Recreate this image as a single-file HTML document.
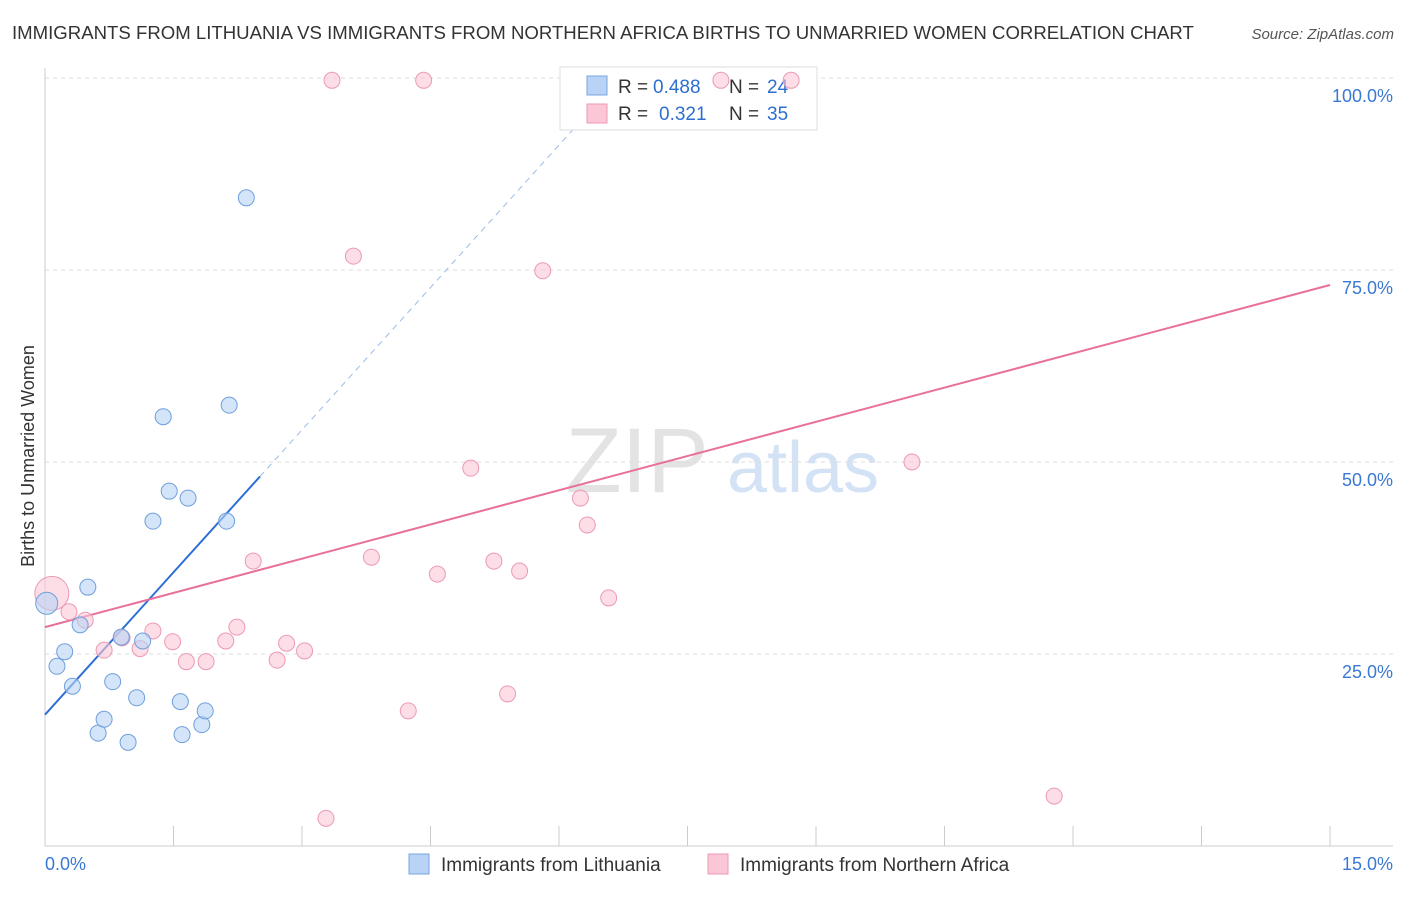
<!DOCTYPE html>
<html><head><meta charset="utf-8"><style>
body{margin:0;background:#fff;font-family:"Liberation Sans",sans-serif;}
svg text{font-family:"Liberation Sans",sans-serif;}
</style></head><body>
<svg id="chart" width="1406" height="892">
<text x="12" y="39" font-size="18.6" fill="#333">IMMIGRANTS FROM LITHUANIA VS IMMIGRANTS FROM NORTHERN AFRICA BIRTHS TO UNMARRIED WOMEN CORRELATION CHART</text>
<text x="1394" y="39" font-size="15" fill="#555" text-anchor="end" font-style="italic">Source: ZipAtlas.com</text>
<text x="34" y="456" font-size="18" fill="#333" text-anchor="middle" transform="rotate(-90 34 456)">Births to Unmarried Women</text>
<g><text x="637" y="492" font-size="92" fill="#ddd" font-family="Liberation Serif" text-anchor="middle" opacity="0.8">ZIP</text><text x="803" y="492" font-size="72" fill="#c9dcf2" text-anchor="middle" opacity="0.8">atlas</text></g>
<g id="grid"></g><g id="axes"></g><g id="lines"></g>
<g>
<rect x="560" y="67" width="257" height="63" fill="#fff" stroke="#ddd"/>
<rect x="587" y="76" width="20" height="19" fill="#b8d3f5" stroke="#7aa7e0"/>
<rect x="587" y="104" width="20" height="19" fill="#fbc6d6" stroke="#ee9ab4"/>
<text x="618" y="93" font-size="19" fill="#333">R =</text>
<text x="653" y="93" font-size="19" fill="#2d6fcf">0.488</text>
<text x="729" y="93" font-size="19" fill="#333">N =</text>
<text x="767" y="93" font-size="19" fill="#2d6fcf">24</text>
<text x="618" y="120" font-size="19" fill="#333">R =</text>
<text x="659" y="120" font-size="19" fill="#2d6fcf">0.321</text>
<text x="729" y="120" font-size="19" fill="#333">N =</text>
<text x="767" y="120" font-size="19" fill="#2d6fcf">35</text>
</g>
<g id="pts"></g>
<g>
<rect x="409" y="854" width="20" height="20" fill="#b8d3f5" stroke="#7aa7e0"/>
<text x="441" y="871" font-size="19" fill="#333">Immigrants from Lithuania</text>
<rect x="708" y="854" width="20" height="20" fill="#fbc6d6" stroke="#ee9ab4"/>
<text x="740" y="871" font-size="19" fill="#333">Immigrants from Northern Africa</text>
</g>
</svg>
<script>
const blueX=[0.02,0.14,0.23,0.32,0.41,0.50,0.62,0.69,0.79,0.89,0.97,1.07,1.14,1.26,1.38,1.45,1.58,1.60,1.67,1.83,1.87,2.12,2.15,2.35];
const blueY=[31.6,23.4,25.3,20.8,28.8,33.7,14.7,16.5,21.4,27.2,13.5,19.3,26.7,42.3,55.9,46.2,18.8,14.5,45.3,15.8,17.6,42.3,57.4,84.4];
const pinkX=[0.08,0.28,0.47,0.69,0.90,1.11,1.26,1.49,1.65,1.88,2.11,2.24,2.43,2.71,2.82,3.03,3.28,3.35,3.60,3.81,4.24,4.42,4.58,4.97,5.24,5.40,5.54,5.81,6.25,6.33,6.58,7.89,8.71,10.12,11.78];
const pinkY=[32.9,30.5,29.4,25.5,27.1,25.7,28.0,26.6,24.0,24.0,26.7,28.5,37.1,24.2,26.4,25.4,3.6,99.7,76.8,37.6,17.6,99.7,35.4,49.2,37.1,19.8,35.8,74.9,45.3,41.8,32.3,99.7,99.7,50.0,6.5];
const yTicks=[25,50,75,100];
const yTickLabels=["25.0%","50.0%","75.0%","100.0%"];
const blueFit=[17.1,12.36];
const pinkFit=[28.5,2.97];
const NS="http://www.w3.org/2000/svg";
const sx=v=>45+v/15*1285, sy=v=>846-v*7.68;
function mk(t,a,p){const e=document.createElementNS(NS,t);for(const k in a)e.setAttribute(k,a[k]);document.getElementById(p).appendChild(e);return e;}
yTicks.forEach((t,i)=>{
 const g=mk('line',{x1:45,x2:1393,y1:sy(t),y2:sy(t),stroke:'#ddd','stroke-dasharray':'4,4'},'grid');
 
 
 const l=mk('text',{x:1393,y:sy(t)+24,'font-size':18,fill:'#3a78d4','text-anchor':'end'},'axes');
 l.textContent=yTickLabels[i];
 
 
});
const ax=mk('line',{x1:45,x2:45,y1:68,y2:846,stroke:'#ccc'},'axes');


const xa=mk('line',{x1:45,x2:1393,y1:846,y2:846,stroke:'#ccc'},'axes');


for(let i=0;i<=10;i++){const t=mk('line',{x1:sx(i*1.5),x2:sx(i*1.5),y1:826,y2:846,stroke:'#ccc'},'axes');
 
 }
[[0,'start','0.0%',45],[15,'end','15.0%',1393]].forEach(d=>{const t=mk('text',{x:d[3],y:870,'font-size':18,fill:'#3a78d4','text-anchor':d[1]},'axes');t.textContent=d[2];
 
 });
const bEnd=2.51, bTop=(100-blueFit[0])/blueFit[1];
let l1=mk('line',{x1:sx(0),y1:sy(blueFit[0]),x2:sx(bEnd),y2:sy(blueFit[0]+blueFit[1]*bEnd),stroke:'#2d6fd6','stroke-width':2},'lines');


let l2=mk('line',{x1:sx(bEnd),y1:sy(blueFit[0]+blueFit[1]*bEnd),x2:sx(bTop),y2:sy(100),stroke:'#9bbbe6','stroke-width':1,'stroke-dasharray':'6,5'},'lines');


let l3=mk('line',{x1:sx(0),y1:sy(pinkFit[0]),x2:sx(15),y2:sy(pinkFit[0]+pinkFit[1]*15),stroke:'#e8709a','stroke-width':2},'lines');


pinkX.forEach((x,i)=>{const c=mk('circle',{cx:sx(x),cy:sy(pinkY[i]),r:i==0?17:8,fill:'#fbc6d6','fill-opacity':0.6,stroke:'#eb9ab5','stroke-width':1},'pts');
 
 });
blueX.forEach((x,i)=>{const c=mk('circle',{cx:sx(x),cy:sy(blueY[i]),r:i==0?11:8,fill:'#b8d3f5','fill-opacity':0.6,stroke:'#6f9fdc','stroke-width':1},'pts');
 
 });
</script>
</body></html>
